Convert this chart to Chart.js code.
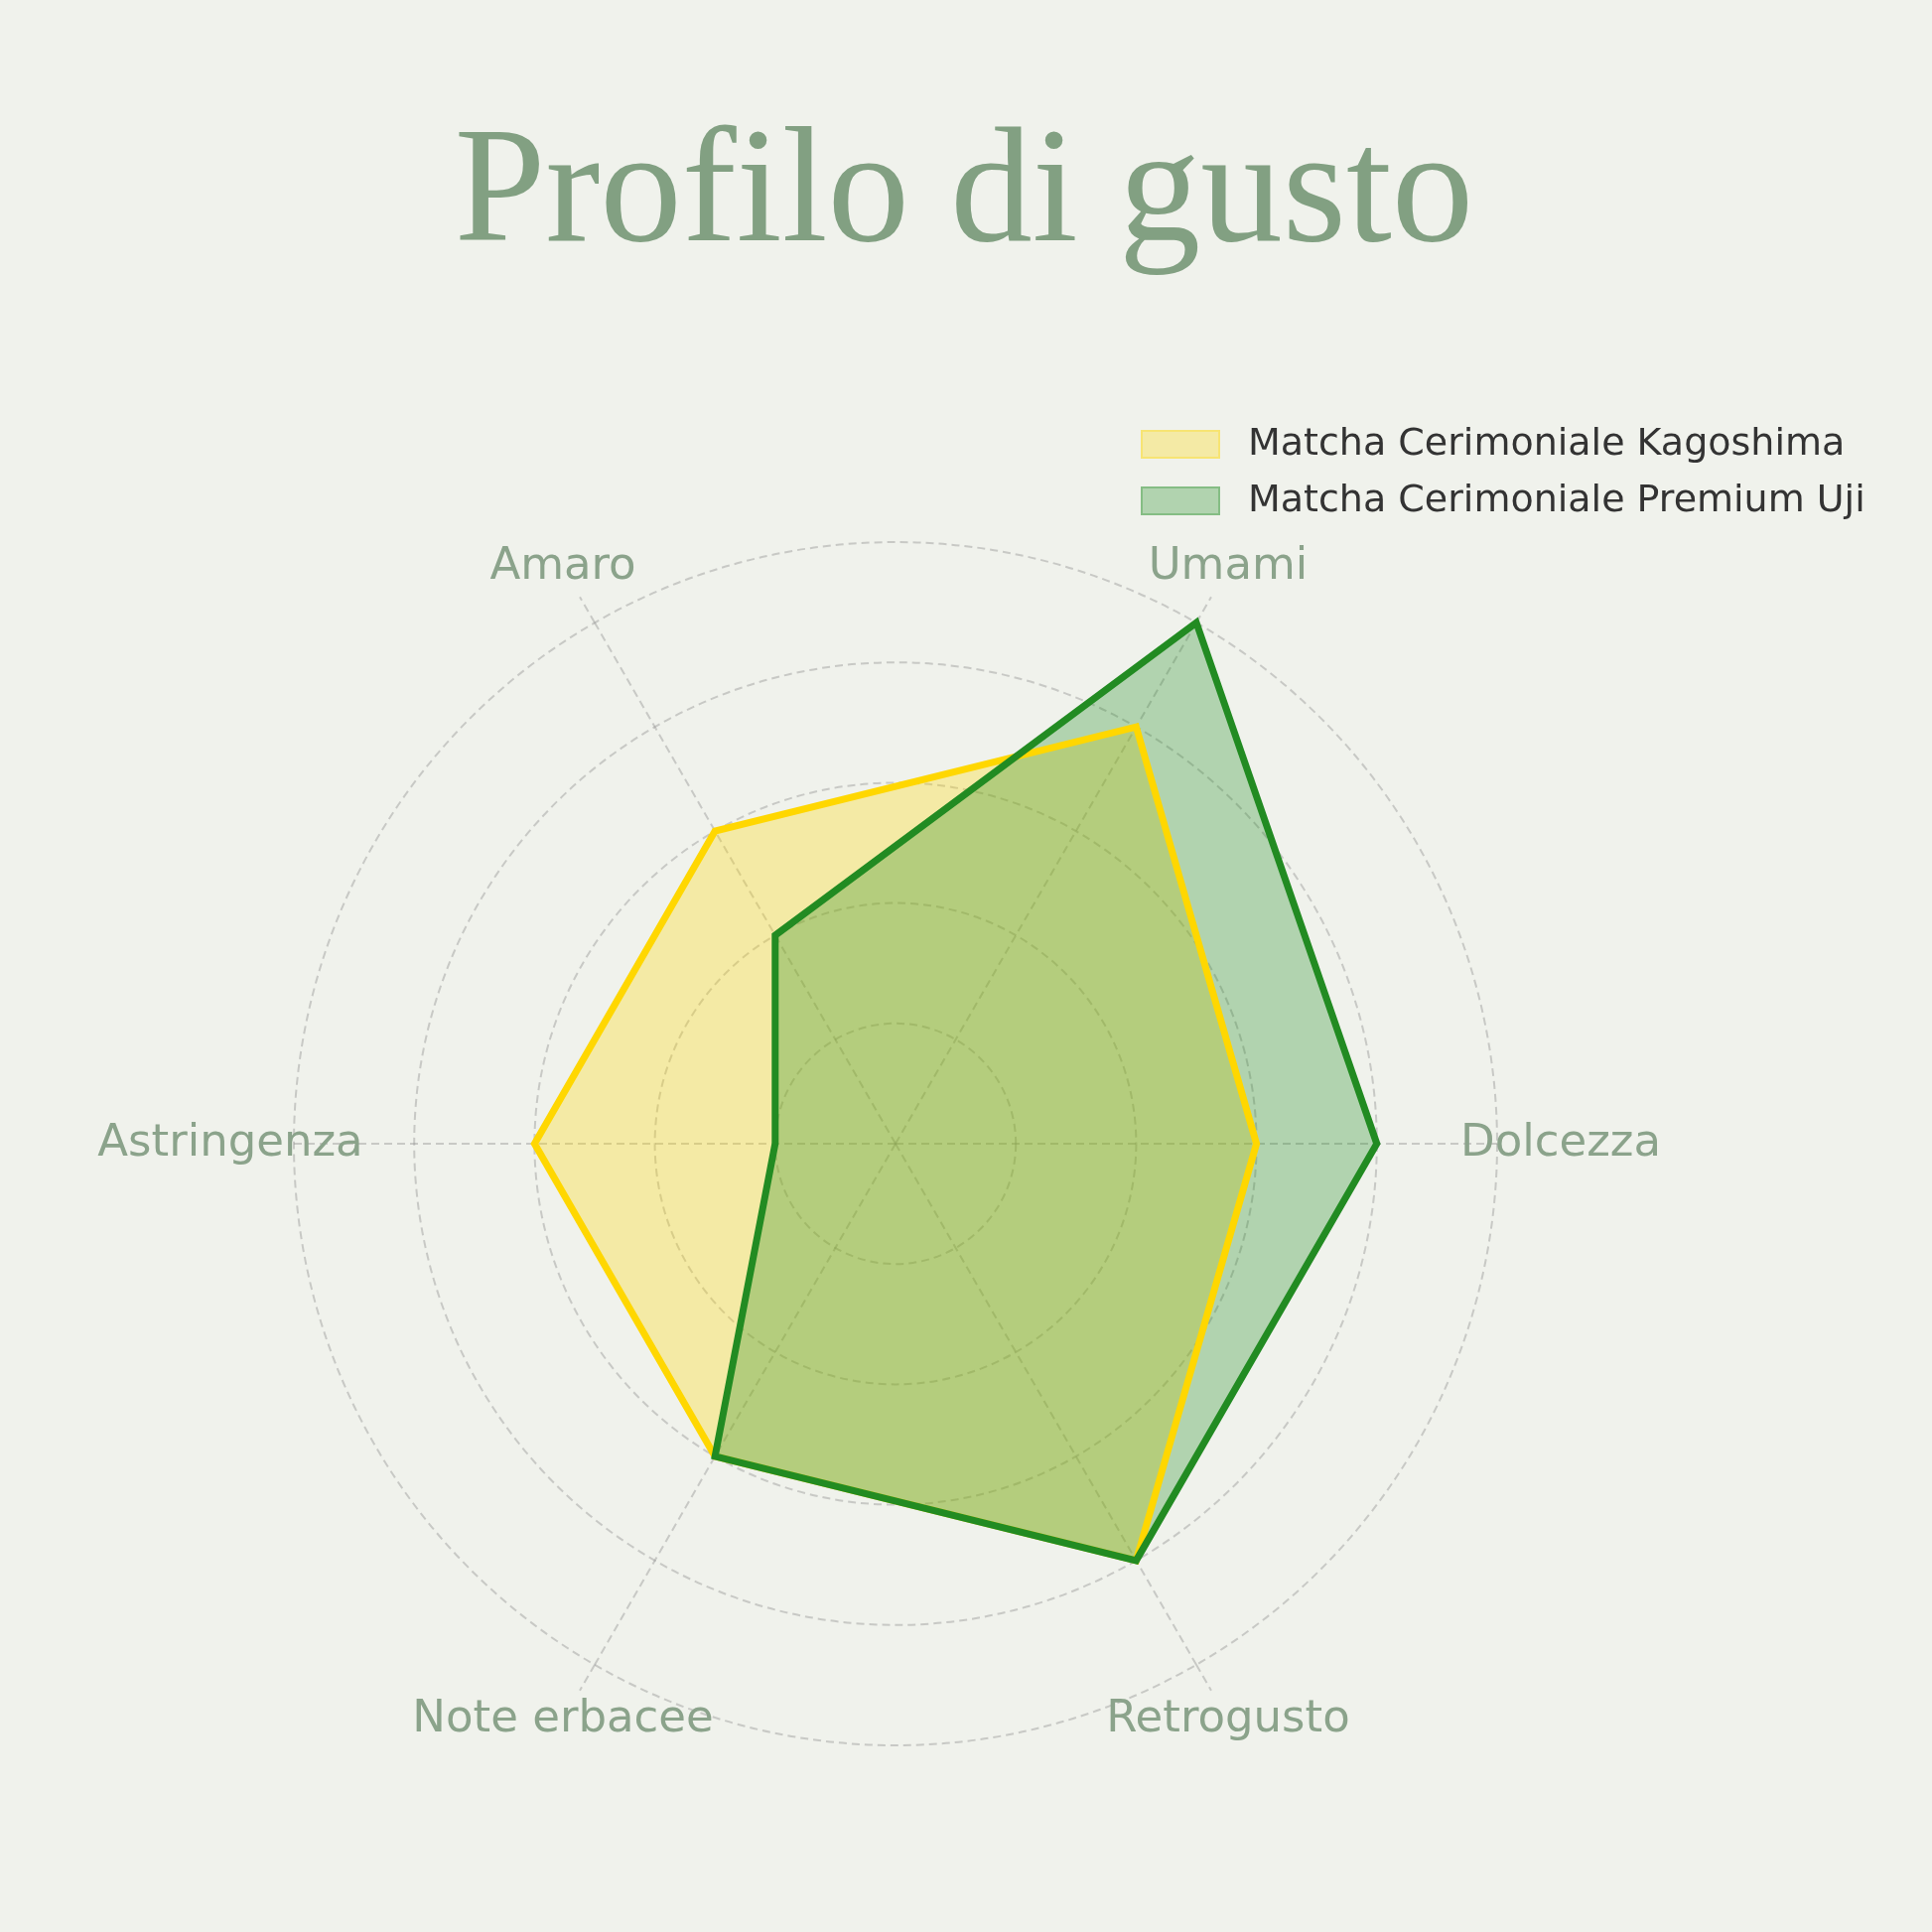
<!DOCTYPE html>
<html>
<head>
<meta charset="utf-8">
<script src="https://cdn.jsdelivr.net/npm/chart.js@4.4.0/dist/chart.umd.min.js"></script>
<style>
html,body{margin:0;padding:0;background:#f0f2ec;}
#wrap{width:1946px;height:1946px;position:relative;}
</style>
</head>
<body>
<div id="wrap"><canvas id="c"></canvas></div>
<script>
const titleText = 'Profilo di gusto';
const categories = ['Umami', 'Dolcezza', 'Retrogusto', 'Note erbacee', 'Astringenza', 'Amaro'];
const seriesNames = ['Matcha Cerimoniale Kagoshima', 'Matcha Cerimoniale Premium Uji'];
const kagoshimaValues = [4, 3, 4, 3, 3, 3];
const ujiValues = [5, 4, 4, 3, 1, 2];
const scaleMin = 0;
const scaleMax = 5;
const scaleStep = 1;

const BG = '#f0f2ec';
const GRID = 'rgba(150,150,150,0.45)';
const DASH = [8, 5];
const LABEL_COLOR = '#8ba38b';
const LABEL_FONT = '45px "DejaVu Sans"';
const LABEL_OFFSET = 64;
const YELLOW = '#FFD700';
const YELLOW_FILL = 'rgba(255,215,0,0.3)';
const GREEN = '#228B22';
const GREEN_FILL = 'rgba(34,139,34,0.3)';

const bgPlugin = {
  id: 'bg',
  beforeDraw(chart) {
    const ctx = chart.ctx;
    ctx.save();
    ctx.fillStyle = BG;
    ctx.fillRect(0, 0, chart.width, chart.height);
    ctx.restore();
  }
};

const decorPlugin = {
  id: 'decor',
  beforeDatasetsDraw(chart) {
    const scale = chart.scales.r;
    const ctx = chart.ctx;
    ctx.save();
    ctx.font = LABEL_FONT;
    ctx.strokeStyle = GRID;
    ctx.lineWidth = 2;
    ctx.setLineDash(DASH);
    const labels = chart.data.labels;
    for (let i = 0; i < labels.length; i++) {
      const a = scale.getIndexAngle(i);
      const w = ctx.measureText(labels[i]).width;
      const hh = 26;
      const s = Math.abs(Math.sin(a)), c = Math.abs(Math.cos(a));
      const dW = s > 1e-6 ? (w / 2) / s : Infinity;
      const dH = c > 1e-6 ? hh / c : Infinity;
      const rEnd = scale.drawingArea + LABEL_OFFSET - Math.min(dW, dH) - 4;
      if (rEnd <= scale.drawingArea) continue;
      const p0 = scale.getPointPosition(i, scale.drawingArea);
      const p1 = scale.getPointPosition(i, rEnd);
      ctx.beginPath();
      ctx.moveTo(p0.x, p0.y);
      ctx.lineTo(p1.x, p1.y);
      ctx.stroke();
    }
    ctx.restore();
  },
  afterDraw(chart) {
    const scale = chart.scales.r;
    const ctx = chart.ctx;
    ctx.save();
    ctx.font = LABEL_FONT;
    ctx.fillStyle = LABEL_COLOR;
    ctx.textAlign = 'center';
    ctx.textBaseline = 'middle';
    chart.data.labels.forEach((lab, i) => {
      const p = scale.getPointPosition(i, scale.drawingArea + LABEL_OFFSET);
      ctx.fillText(lab, p.x, p.y);
    });
    ctx.font = '165px "Liberation Serif"';
    ctx.fillStyle = '#82a082';
    ctx.textAlign = 'center';
    ctx.textBaseline = 'alphabetic';
    ctx.fillText(titleText, 971, 242);
    ctx.font = '38px "DejaVu Sans"';
    ctx.textAlign = 'left';
    ctx.textBaseline = 'middle';
    chart.data.datasets.filter(ds => ds.inLegend).forEach((ds, i) => {
      const y = 433 + i * 57;
      ctx.fillStyle = ds.backgroundColor;
      ctx.fillRect(1149, y, 80, 29);
      ctx.strokeStyle = ds.backgroundColor;
      ctx.lineWidth = 2;
      ctx.setLineDash([]);
      ctx.strokeRect(1150, y + 1, 78, 27);
      ctx.fillStyle = '#333333';
      ctx.fillText(ds.label, 1257, y + 15);
    });
    ctx.restore();
  }
};

new Chart(document.getElementById('c'), {
  type: 'radar',
  data: {
    labels: categories,
    datasets: [
      { label: seriesNames[0], inLegend: true, data: kagoshimaValues, borderWidth: 0,
        borderColor: 'rgba(0,0,0,0)', backgroundColor: YELLOW_FILL, pointRadius: 0, pointHoverRadius: 0, fill: true, order: 3 },
      { label: seriesNames[1], inLegend: true, data: ujiValues, borderWidth: 0,
        borderColor: 'rgba(0,0,0,0)', backgroundColor: GREEN_FILL, pointRadius: 0, pointHoverRadius: 0, fill: true, order: 2 },
      { label: seriesNames[0] + ' (linea)', data: kagoshimaValues, borderWidth: 7,
        borderColor: YELLOW, backgroundColor: 'rgba(0,0,0,0)', pointRadius: 0, pointHoverRadius: 0, fill: false, order: 1 },
      { label: seriesNames[1] + ' (linea)', data: ujiValues, borderWidth: 7,
        borderColor: GREEN, backgroundColor: 'rgba(0,0,0,0)', pointRadius: 0, pointHoverRadius: 0, fill: false, order: 0 }
    ]
  },
  options: {
    responsive: true,
    maintainAspectRatio: false,
    animation: false,
    layout: { padding: { left: 296, right: 438, top: 546, bottom: 188 } },
    plugins: {
      legend: { display: false },
      title: { display: false },
      tooltip: { enabled: false }
    },
    scales: {
      r: {
        min: scaleMin,
        max: scaleMax,
        startAngle: 30,
        ticks: { display: false, stepSize: scaleStep },
        grid: { circular: true, color: GRID, lineWidth: 2, borderDash: DASH },
        border: { dash: DASH },
        angleLines: { display: true, color: GRID, lineWidth: 2, borderDash: DASH },
        pointLabels: { display: false }
      }
    }
  },
  plugins: [bgPlugin, decorPlugin]
});
</script>
</body>
</html>
